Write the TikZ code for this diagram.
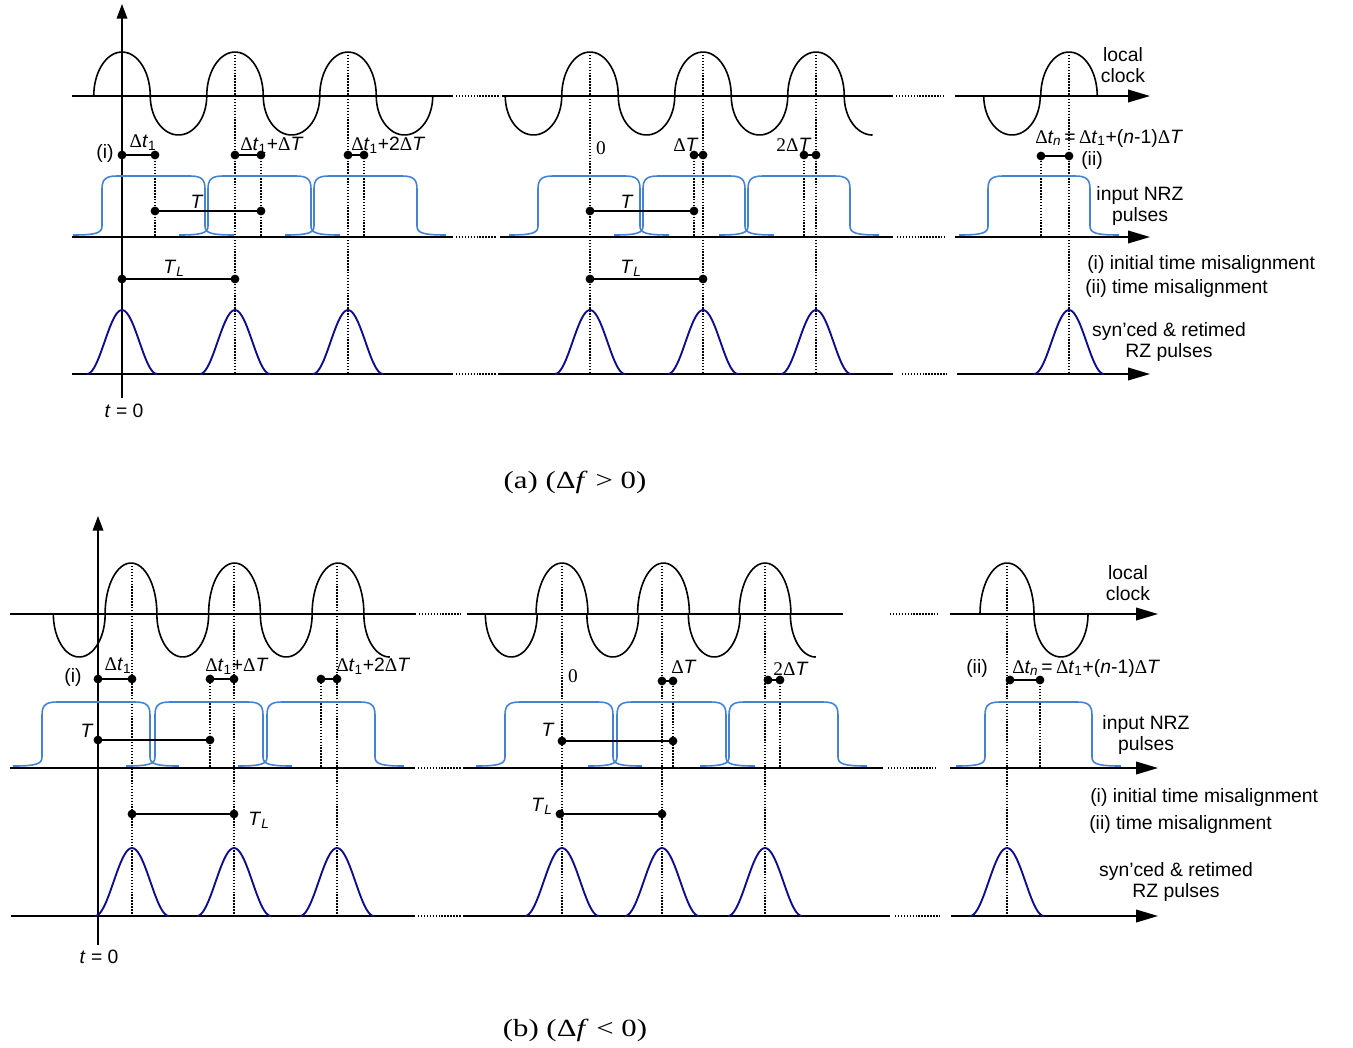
\documentclass[tikz,border=0pt]{standalone}
\usepackage{fontspec}
\setmainfont{Liberation Sans}
\newfontfamily\tms{Liberation Serif}
\newfontfamily\capfont[FakeStretch=1.25]{Liberation Serif}
\usetikzlibrary{arrows.meta}

\definecolor{nrzblue}{RGB}{70,130,212}
\definecolor{rznavy}{RGB}{12,12,140}

\tikzset{
  timeline/.style={line width=1.2pt},
  gapline/.style={line width=1.05pt, dash pattern=on 1.1pt off 1.1pt},
  tipline/.style={line width=1.2pt, -{Triangle[length=16.5pt,width=9.5pt]}},
  clkwave/.style={line width=1.2pt},
  nrz/.style={line width=1.2pt, nrzblue},
  rz/.style={line width=1.4pt, rznavy},
  marker/.style={line width=1.1pt},
  lbl/.style={font=\fontsize{14.5}{15.75}\selectfont, inner sep=0pt},
  caption/.style={font=\capfont\fontsize{18.5}{20}\selectfont, inner sep=0pt}
}

% one half period of the local clock: centre, half width, amplitude, base, end angle
\newcommand{\clklobe}[5]{\draw[clkwave] plot[domain=0:#5,samples=30,smooth] ({#1-#2*cos(\x)},{#4-#3*sin(\x)});}
% NRZ pulse: rising edge, falling edge, base, top
\newcommand{\nrzpulse}[4]{\draw[nrz] (#1-29,#3-2) .. controls (#1-6,#3-2) and (#1,#3-4) .. (#1,#3-11)
  -- (#1,#4+13) .. controls (#1,#4+3) and (#1+4,#4) .. (#1+15,#4)
  -- (#2-15,#4) .. controls (#2-4,#4) and (#2,#4+3) .. (#2,#4+13)
  -- (#2,#3-11) .. controls (#2,#3-4) and (#2+6,#3-2) .. (#2+29,#3-2);}
% RZ pulse: centre, half width, base, peak
\newcommand{\rzpulse}[4]{\draw[rz] plot[domain=-180:180,samples=41,smooth] ({#1+#2*\x/180},{#3-(#3-#4)*(1+cos(\x))/2});}
% interval with two dots
\newcommand{\spanmark}[3]{\draw[marker] (#1,#3) -- (#2,#3); \fill (#1,#3) circle (3.3pt) (#2,#3) circle (3.3pt);}

\newcommand{\dl}{{\tms Δ}}

\begin{document}
\begin{tikzpicture}[x=0.75pt,y=-0.75pt]
\useasboundingbox (0,0) rectangle (1353,1047);

%% ---------- (a) ----------
% guides
\foreach \gx in {235,348,590,703,816,1069} {\draw[gapline] (\gx,52) -- (\gx,374);}
\foreach \gx in {155,261,364,694,804,1041} {\draw[gapline] (\gx,155) -- (\gx,237);}

\draw[line width=1.1pt,-{Triangle[length=11pt,width=8pt]}] (122,398) -- (122,4);

% local clock
\draw[timeline] (72,96) -- (453,96);
\draw[gapline] (456,96) -- (500,96);
\draw[timeline] (502,96) -- (893,96);
\draw[gapline] (896,96) -- (945,96);
\draw[tipline] (955,96) -- (1150,96);
\foreach \c/\a in {122/44,178.5/-39,235/44,291.5/-39,348/44,404.5/-39,533.5/-39,590/44,646.5/-39,703/44,759.5/-39,816/44,1012/-39,1069/44}
  {\clklobe{\c}{28.25}{\a}{96}{180}}
\clklobe{872.5}{28.25}{-39}{96}{90}

% input NRZ
\draw[timeline] (72,237) -- (453,237);
\draw[gapline] (456,237) -- (497,237);
\draw[timeline] (500,237) -- (893,237);
\draw[gapline] (897,237) -- (945,237);
\draw[tipline] (955,237) -- (1150,237);
\foreach \r/\f in {102/205,208/311,314/417,538/640,643/745,748/850,988/1090}
  {\nrzpulse{\r}{\f}{237}{176}}

% RZ out
\draw[timeline] (72,374) -- (453,374);
\draw[gapline] (456,374) -- (497,374);
\draw[timeline] (498,374) -- (893,374);
\draw[gapline] (902,374) -- (948,374);
\draw[tipline] (957,374) -- (1150,374);
\foreach \c in {122,235,348,590,703,816,1069} {\rzpulse{\c}{35}{374}{310}}

% markers
\spanmark{122}{155}{155}
\spanmark{235}{261}{155}
\spanmark{348}{364}{155}
\spanmark{694}{703}{155}
\spanmark{804}{816}{155}
\spanmark{1041}{1069}{156}
\spanmark{155}{261}{211}
\spanmark{590}{694}{211}
\spanmark{122}{235}{279}
\spanmark{590}{703}{279}

\node[lbl] (ia) at (105,153) {(i)};
\node[lbl] (dt1a) at (143,143) {\dl\textit{t}\textsubscript{1}};
\node[lbl,anchor=west] (dt2a) at (240,145) {\dl\textit{t}\textsubscript{1}+\dl\textit{T}};
\node[lbl,anchor=west] (dt3a) at (351,145) {\dl\textit{t}\textsubscript{1}+2\dl\textit{T}};
\node[lbl] (zeroa) at (601,148) {\tms 0};
\node[lbl] (dTa) at (686,145) {\dl\textit{T}};
\node[lbl] (dT2a) at (794,145) {{\tms 2Δ}\textit{T}};
\node[lbl,anchor=west] (dtna) at (1035,138) {\dl\textit{t\textsubscript{n}}\,=\,\dl\textit{t}\textsubscript{1}+(\textit{n}-1)\dl\textit{T}};
\node[lbl] (iia) at (1092,160) {(ii)};
\node[lbl] (Ta) at (197,202) {\textit{T}};
\node[lbl] (Tmida) at (627,202) {\textit{T}};
\node[lbl] (TLa) at (174,268) {\textit{T}\textsubscript{\textit{L}}};
\node[lbl] (TLmida) at (631,268) {\textit{T}\textsubscript{\textit{L}}};
\node[lbl,align=center] (clka) at (1123,65) {local\\clock};
\node[lbl,align=center] (nrza) at (1140,206) {input NRZ\\pulses};
\node[lbl,anchor=west] (misia) at (1087,264) {(i) initial time misalignment};
\node[lbl,anchor=west] (misiia) at (1085,288) {(ii) time misalignment};
\node[lbl,align=center] (rza) at (1169,342) {syn'ced \& retimed\\RZ pulses};
\node[lbl] (t0a) at (124,411) {\textit{t} = 0};
\node[caption] (capa) at (575,482) {(a) (Δ\textit{f} > 0)};

%% ---------- (b) ----------
\foreach \gx in {132,234,337} {\draw[gapline] (\gx,563) -- (\gx,916);}
\foreach \gx in {562,662,765,1007} {\draw[gapline] (\gx,566) -- (\gx,916);}
\foreach \gx in {210,321,673,780,1040} {\draw[gapline] (\gx,680) -- (\gx,768);}

\draw[line width=1.1pt,-{Triangle[length=11pt,width=8pt]}] (98,945) -- (98,516);

% local clock
\draw[timeline] (10,614) -- (416,614);
\draw[gapline] (419,614) -- (461,614);
\draw[timeline] (467,614) -- (843,614);
\draw[gapline] (890,614) -- (938,614);
\draw[tipline] (950,614) -- (1158,614);
\foreach \c/\a in {79.25/-43,131/51,182.75/-43,234.5/51,286.25/-43,338/51,511.25/-43,562/51,612.75/-43,663.5/51,714.25/-43,765/51}
  {\clklobe{\c}{25.9}{\a}{614}{180}}
\clklobe{389.75}{25.9}{-43}{614}{90}
\clklobe{815.75}{25.4}{-43}{614}{90}
\clklobe{1007}{27}{51}{614}{180}
\clklobe{1061}{27}{-43}{614}{180}

% input NRZ
\draw[timeline] (10,768) -- (415,768);
\draw[gapline] (418,768) -- (461,768);
\draw[timeline] (463,768) -- (883,768);
\draw[gapline] (888,768) -- (937,768);
\draw[tipline] (950,768) -- (1158,768);
\foreach \r/\f in {42/150,155/263,267/375,505/613,617/726,729/838,985/1092}
  {\nrzpulse{\r}{\f}{768}{702}}

% RZ out
\draw[timeline] (11,916) -- (415,916);
\draw[gapline] (418,916) -- (461,916);
\draw[timeline] (463,916) -- (890,916);
\draw[gapline] (895,916) -- (940,916);
\draw[tipline] (951,916) -- (1158,916);
\foreach \c in {132,234,337,562,662,765,1007} {\rzpulse{\c}{37}{916}{848}}

% markers
\spanmark{98}{132}{679}
\spanmark{210}{234}{679}
\spanmark{321}{337}{679}
\spanmark{662}{673}{681}
\spanmark{768}{780}{680}
\spanmark{1010}{1040}{680}
\spanmark{98}{210}{740}
\spanmark{562}{673}{741}
\spanmark{132}{234}{814}
\spanmark{560}{662}{814}

\node[lbl] (ib) at (73,677) {(i)};
\node[lbl] (dt1b) at (118,666) {\dl\textit{t}\textsubscript{1}};
\node[lbl,anchor=west] (dt2b) at (205,666) {\dl\textit{t}\textsubscript{1}+\dl\textit{T}};
\node[lbl,anchor=west] (dt3b) at (336,666) {\dl\textit{t}\textsubscript{1}+2\dl\textit{T}};
\node[lbl] (zerob) at (573,676) {\tms 0};
\node[lbl] (dTb) at (684,667) {\dl\textit{T}};
\node[lbl] (dT2b) at (791,669) {{\tms 2Δ}\textit{T}};
\node[lbl] (iib) at (977,668) {(ii)};
\node[lbl,anchor=west] (dtnb) at (1012,668) {\dl\textit{t\textsubscript{n}}\,=\,\dl\textit{t}\textsubscript{1}+(\textit{n}-1)\dl\textit{T}};
\node[lbl] (Tb) at (87,731) {\textit{T}};
\node[lbl] (Tmidb) at (548,730) {\textit{T}};
\node[lbl] (TLb) at (259,820) {\textit{T}\textsubscript{\textit{L}}};
\node[lbl] (TLmidb) at (542,806) {\textit{T}\textsubscript{\textit{L}}};
\node[lbl,align=center] (clkb) at (1128,583) {local\\clock};
\node[lbl,align=center] (nrzb) at (1146,735) {input NRZ\\pulses};
\node[lbl,anchor=west] (misib) at (1090,797) {(i) initial time misalignment};
\node[lbl,anchor=west] (misiib) at (1089,824) {(ii) time misalignment};
\node[lbl,align=center] (rzb) at (1176,882) {syn'ced \& retimed\\RZ pulses};
\node[lbl] (t0b) at (99,957) {\textit{t} = 0};
\node[caption] (capb) at (575,1030) {(b) (Δ\textit{f} < 0)};
\end{tikzpicture}
\end{document}
